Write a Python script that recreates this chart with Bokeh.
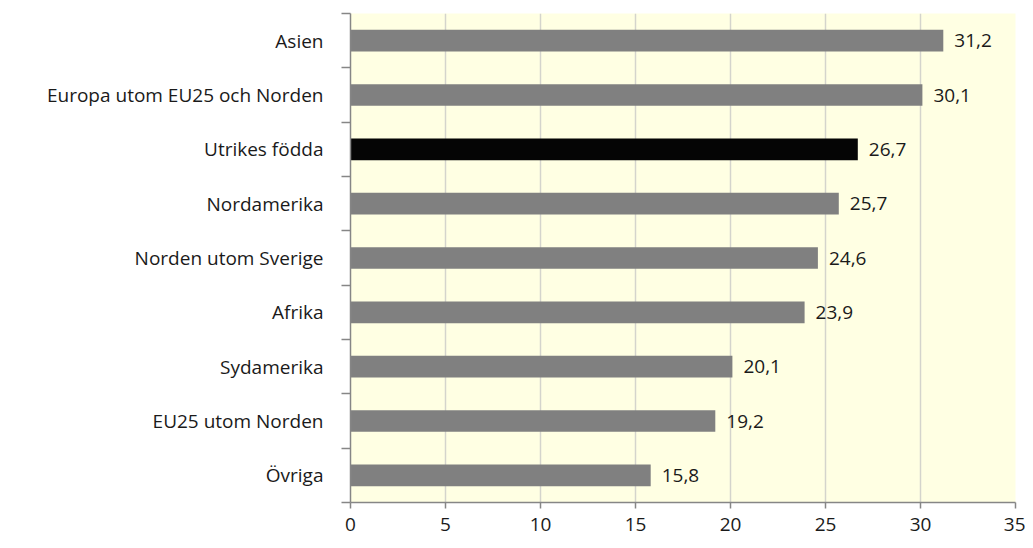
from bokeh.plotting import figure
from bokeh.models import ColumnDataSource, FixedTicker, Range1d
from bokeh.embed import file_html
from bokeh.resources import INLINE
from bokeh.core.properties import value

categories = ["Asien", "Europa utom EU25 och Norden", "Utrikes födda", "Nordamerika",
              "Norden utom Sverige", "Afrika", "Sydamerika", "EU25 utom Norden", "Övriga"]
values = [31.2, 30.1, 26.7, 25.7, 24.6, 23.9, 20.1, 19.2, 15.8]
highlight = "Utrikes födda"
x_ticks = [0, 5, 10, 15, 20, 25, 30, 35]

n = len(categories)
ypos = [n - i - 0.5 for i in range(n)]
colors = ["#050505" if c == highlight else "#808080" for c in categories]
labels = [f"{v:.1f}".replace(".", ",") for v in values]

src = ColumnDataSource(dict(y=ypos, v=values, c=colors, lab=labels))

FONT = "Open Sans"
FS = "19px"
p = figure(frame_width=665, frame_height=489, output_backend="svg", toolbar_location=None,
           x_range=Range1d(0, 35), y_range=Range1d(0, n),
           min_border_left=350, min_border_top=13, min_border_right=10, min_border_bottom=38)
p.background_fill_color = "#FFFFE3"
p.border_fill_color = "white"
p.outline_line_color = None

p.hbar(y="y", left=0, right="v", height=0.4, fill_color="c", line_color=None, source=src)
p.text(x="v", y="y", text="lab", source=src, x_offset=11, text_baseline="middle",
       text_align="left", text_font=value(FONT), text_font_size=FS, text_color="#1a1a1a")

# grid
p.ygrid.grid_line_color = None
p.xgrid.ticker = FixedTicker(ticks=x_ticks)
p.xgrid.grid_line_color = "#d4d4cc"
p.xgrid.grid_line_width = 1.5

# x axis
p.xaxis.ticker = FixedTicker(ticks=x_ticks)
p.xaxis.axis_line_color = "#868686"
p.xaxis.axis_line_width = 1.5
p.xaxis.major_tick_line_color = "#868686"
p.xaxis.major_tick_line_width = 1.5
p.xaxis.major_tick_out = 6
p.xaxis.major_tick_in = 0
p.xaxis.minor_tick_line_color = None
p.xaxis.major_label_standoff = 9
p.xaxis.major_label_text_font = FONT
p.xaxis.major_label_text_font_size = FS
p.xaxis.major_label_text_color = "#1a1a1a"

# y axis: labels at centers, ticks at boundaries (minor)
p.yaxis.ticker = FixedTicker(ticks=ypos, minor_ticks=list(range(n + 1)))
p.yaxis.major_label_overrides = {y: c for y, c in zip(ypos, categories)}
p.yaxis.axis_line_color = "#868686"
p.yaxis.axis_line_width = 1.5
p.yaxis.major_tick_line_color = None
p.yaxis.major_tick_out = 0
p.yaxis.major_tick_in = 0
p.yaxis.minor_tick_line_color = "#868686"
p.yaxis.minor_tick_line_width = 1.5
p.yaxis.minor_tick_out = 9
p.yaxis.minor_tick_in = 0
p.yaxis.major_label_standoff = 18
p.yaxis.major_label_text_font = FONT
p.yaxis.major_label_text_font_size = FS
p.yaxis.major_label_text_color = "#1a1a1a"

open("out.html", "w").write(file_html(p, INLINE))
